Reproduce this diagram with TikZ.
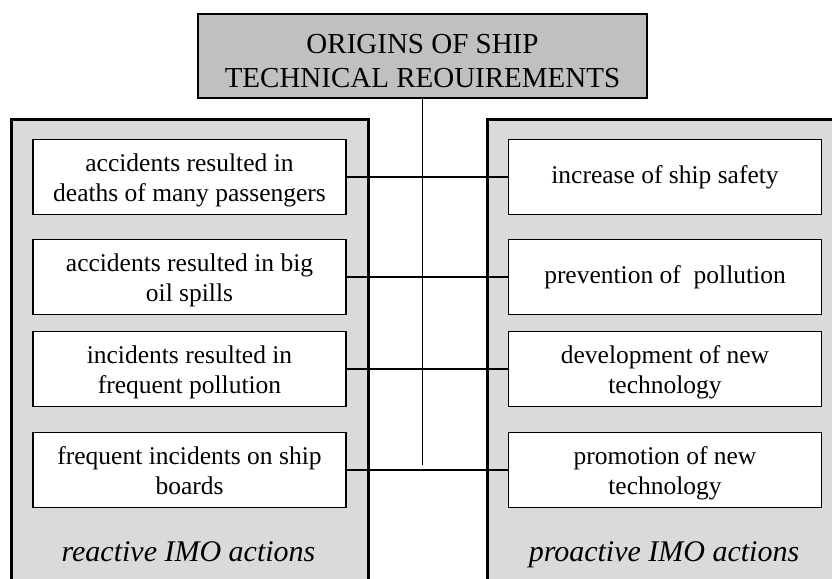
\documentclass[tikz,border=0pt]{standalone}
\usepackage{fontspec}
\setmainfont{Liberation Serif}
\definecolor{titlegray}{RGB}{192,192,192}
\definecolor{panelgray}{RGB}{218,218,218}
\begin{document}
\begin{tikzpicture}[x=1pt,y=-1pt,
  panel/.style={draw, line width=3pt, fill=panelgray, inner sep=0pt, anchor=north west},
  titlebox/.style={draw, line width=2.6pt, fill=titlegray, inner sep=0pt, minimum width=449pt, minimum height=84pt, align=center, text height=66pt, text depth=4pt, font=\fontsize{29}{34}\selectfont},
  item/.style={draw, line width=1.8pt, fill=white, minimum width=313pt, minimum height=75pt, inner sep=0pt, align=center, font=\fontsize{25.5}{30}\selectfont},
  twoline/.style={item, text height=52pt, text depth=4pt},
  panellabel/.style={font=\fontsize{30}{34}\selectfont\itshape, inner sep=0pt, anchor=base},
  link/.style={line width=1.5pt},
  stem/.style={line width=1.1pt}]
\useasboundingbox (0,0) rectangle (832,578);
\clip (0,0) rectangle (832,578);
\fill[white] (0,0) rectangle (832,578);
% panels
\node[panel, minimum width=357pt, minimum height=490pt] (lp) at (10,118) {};
\node[panel, minimum width=357pt, minimum height=490pt] (rp) at (486,118) {};
% title
\node[titlebox] (title) at (422.5,56) {ORIGINS OF SHIP\\TECHNICAL REOUIREMENTS};
% left items
\node[twoline] (l1) at (189.5,177) {accidents resulted in\\deaths of many passengers};
\node[twoline] (l2) at (189.5,277) {accidents resulted in big\\oil spills};
\node[twoline] (l3) at (189.5,369) {incidents resulted in\\frequent pollution};
\node[twoline] (l4) at (189.5,470) {frequent incidents on ship\\boards};
% right items
\node[item] (r1) at (665,177) {increase of ship safety};
\node[item] (r2) at (665,277) {prevention of \ pollution};
\node[twoline] (r3) at (665,369) {development of new\\technology};
\node[twoline] (r4) at (665,470) {promotion of new\\technology};
% panel labels
\node[panellabel] (ll) at (188.5,561) {reactive IMO actions};
\node[panellabel] (rl) at (664,561) {proactive IMO actions};
% connectors
\coordinate (stemend) at (421.5,465);
\draw[stem] (title.south) -- (title.south |- stemend);
\draw[link] (l1.east) -- (r1.west);
\draw[link] (l2.east) -- (r2.west);
\draw[link] (l3.east) -- (r3.west);
\draw[link] (l4.east) -- (r4.west);
\end{tikzpicture}
\end{document}
